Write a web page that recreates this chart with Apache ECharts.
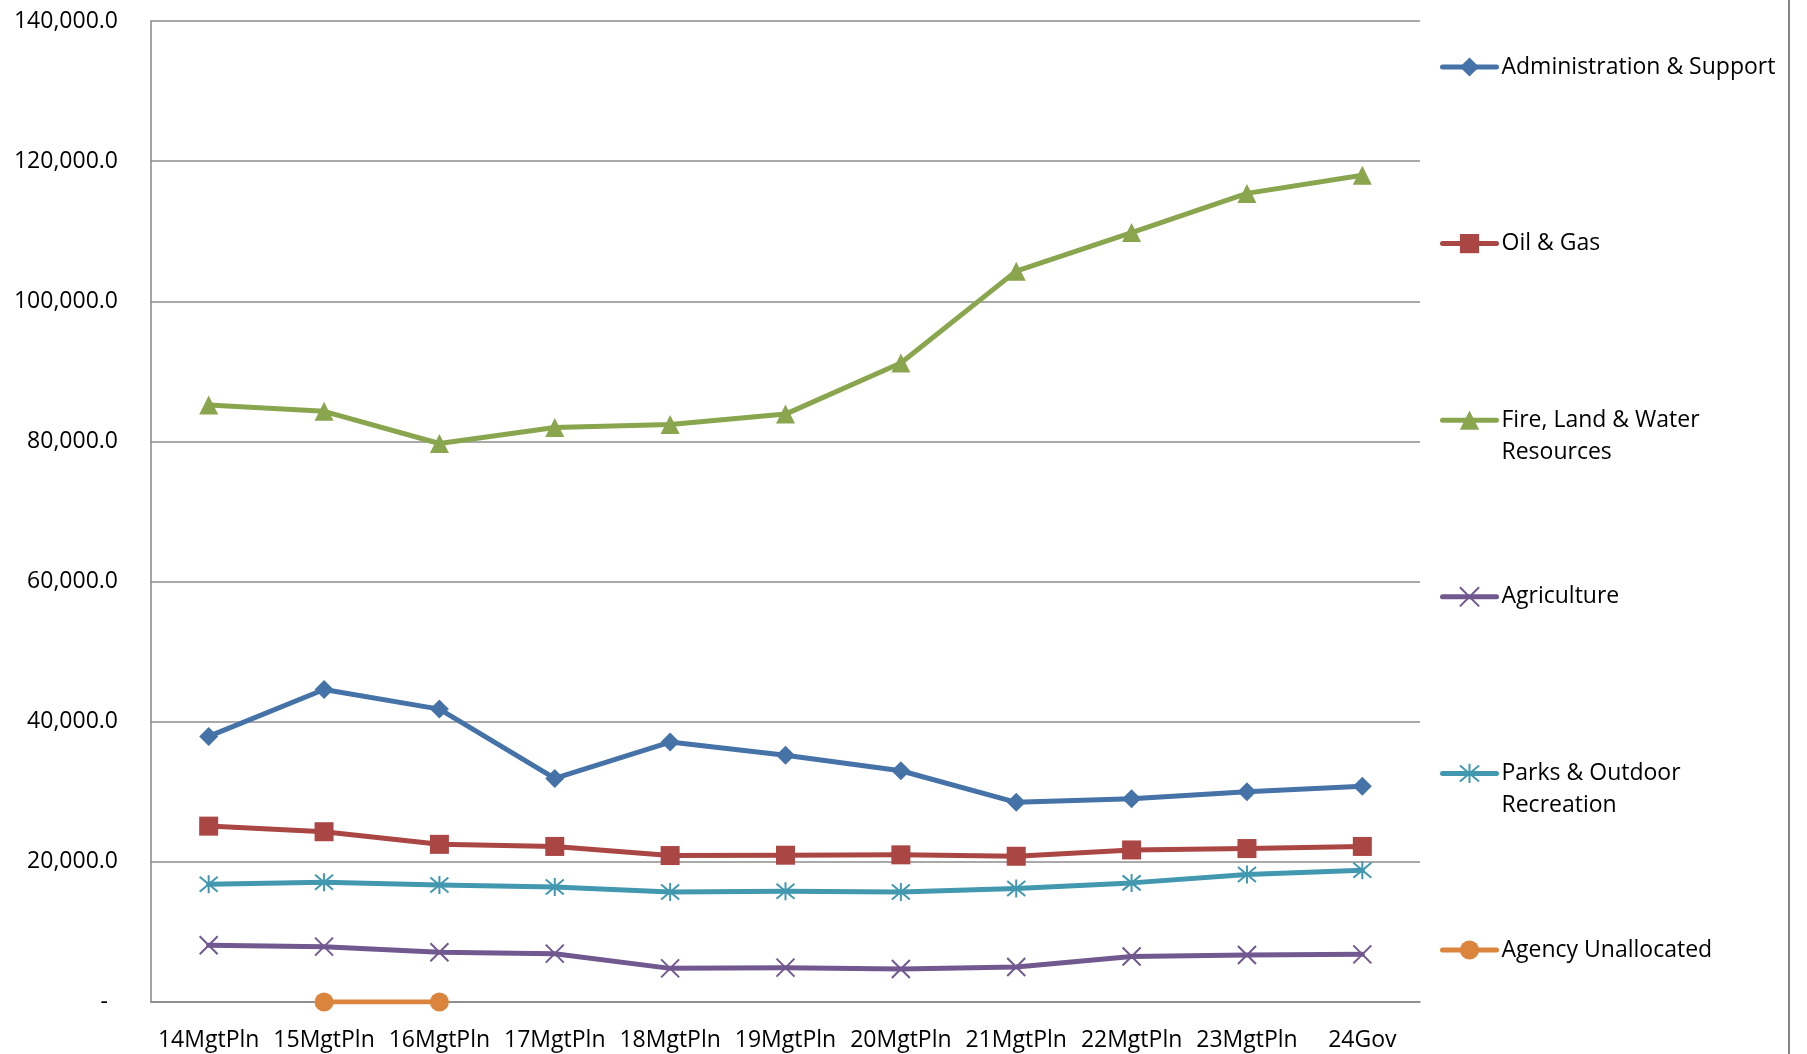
<!DOCTYPE html>
<html>
<head>
<meta charset="utf-8">
<script src="https://cdn.jsdelivr.net/npm/echarts@6/dist/echarts.min.js"></script>
<style>
html,body{margin:0;padding:0;background:#fff;}
#chart{width:1807px;height:1054px;}
</style>
</head>
<body>
<div id="chart"></div>
<script>
const categories = ['14MgtPln','15MgtPln','16MgtPln','17MgtPln','18MgtPln','19MgtPln','20MgtPln','21MgtPln','22MgtPln','23MgtPln','24Gov'];
const adminSupport = [37900, 44600, 41800, 31900, 37100, 35200, 33000, 28500, 29000, 30000, 30800];
const oilGas = [25100, 24300, 22500, 22200, 20900, 20950, 21000, 20800, 21700, 21900, 22200];
const fireLandWater = [85200, 84300, 79700, 82000, 82400, 83900, 91200, 104300, 109800, 115400, 118000];
const agriculture = [8100, 7900, 7100, 6900, 4800, 4900, 4700, 5000, 6500, 6700, 6800];
const parksRecreation = [16800, 17100, 16700, 16400, 15700, 15800, 15700, 16200, 17000, 18200, 18800];
const agencyUnallocated = [null, 0, 0, null, null, null, null, null, null, null, null];
const yTicks = [0, 20000, 40000, 60000, 80000, 100000, 120000, 140000];

const seriesNames = ['Administration & Support', 'Oil & Gas', 'Fire, Land & Water Resources', 'Agriculture', 'Parks & Outdoor Recreation', 'Agency Unallocated'];
const legendLabels = {
  'Administration & Support': '\nAdministration & Support\n',
  'Oil & Gas': '\nOil & Gas\n',
  'Fire, Land & Water Resources': '\nFire, Land & Water\nResources',
  'Agriculture': '\nAgriculture\n',
  'Parks & Outdoor Recreation': '\nParks & Outdoor\nRecreation',
  'Agency Unallocated': '\nAgency Unallocated\n'
};
const colors = ['#4572A7', '#AA4643', '#89A54E', '#71588F', '#4198AF', '#DB843D'];
const FONT = 'Open Sans';
const starPath = 'path://M0,0L20,20M20,0L0,20M10,-2L10,22';
const xPath = 'path://M0,0L20,20M20,0L0,20';

function mkSeries(name, data, color, symbol, stroke) {
  return {
    name: name, type: 'line', data: data,
    symbol: symbol, symbolSize: stroke ? 18 : 19,
    connectNulls: false,
    lineStyle: { color: color, width: 5, cap: 'round', join: 'round' },
    itemStyle: stroke ? { color: 'rgba(0,0,0,0)', borderColor: color, borderWidth: 2 } : { color: color, borderColor: color, borderWidth: 0 },
    emphasis: { disabled: true },
    animation: false
  };
}

const chart = echarts.init(document.getElementById('chart'));
chart.setOption({
  animation: false,
  backgroundColor: '#ffffff',
  color: colors,
  grid: { left: 151, right: 387, top: 21, bottom: 52, containLabel: false },
  xAxis: {
    type: 'category', data: categories, boundaryGap: true,
    axisLine: { show: true, lineStyle: { color: '#868686', width: 1.5 } },
    axisTick: { show: false },
    axisLabel: { color: '#000', fontSize: 23, fontFamily: FONT, margin: 27, interval: 0 },
    splitLine: { show: false }
  },
  yAxis: {
    type: 'value', min: yTicks[0], max: yTicks[yTicks.length - 1], interval: yTicks[1] - yTicks[0],
    axisLine: { show: true, lineStyle: { color: '#868686', width: 1.5 } },
    axisTick: { show: false },
    splitLine: { show: true, lineStyle: { color: '#8c8c8c', width: 1.5 } },
    axisLabel: {
      color: '#000', fontSize: 23, fontFamily: FONT, margin: 33,
      formatter: function (v) {
        if (v === 0) return '{d|-}';
        return v.toLocaleString('en-US', { minimumFractionDigits: 1, maximumFractionDigits: 1 });
      },
      rich: { d: { color: '#000', fontSize: 23, fontFamily: FONT, padding: [0, 10, 0, 0] } }
    }
  },
  legend: {
    orient: 'vertical', left: 1440, top: 19, padding: 0,
    itemWidth: 54, itemHeight: 24, itemGap: 80.6,
    data: seriesNames,
    formatter: function (n) { return legendLabels[n]; },
    textStyle: { color: '#000', fontSize: 23, fontFamily: FONT, lineHeight: 32 },
    lineStyle: { width: 5, cap: 'round' },
    selectedMode: false
  },
  graphic: [{
    type: 'line', silent: true,
    shape: { x1: 1789, y1: 0, x2: 1789, y2: 1054 },
    style: { stroke: '#868686', lineWidth: 2 }
  }],
  series: [
    mkSeries(seriesNames[0], adminSupport, colors[0], 'diamond', false),
    mkSeries(seriesNames[1], oilGas, colors[1], 'rect', false),
    mkSeries(seriesNames[2], fireLandWater, colors[2], 'triangle', false),
    mkSeries(seriesNames[3], agriculture, colors[3], xPath, true),
    mkSeries(seriesNames[4], parksRecreation, colors[4], starPath, true),
    mkSeries(seriesNames[5], agencyUnallocated, colors[5], 'circle', false)
  ]
});
</script>
</body>
</html>
